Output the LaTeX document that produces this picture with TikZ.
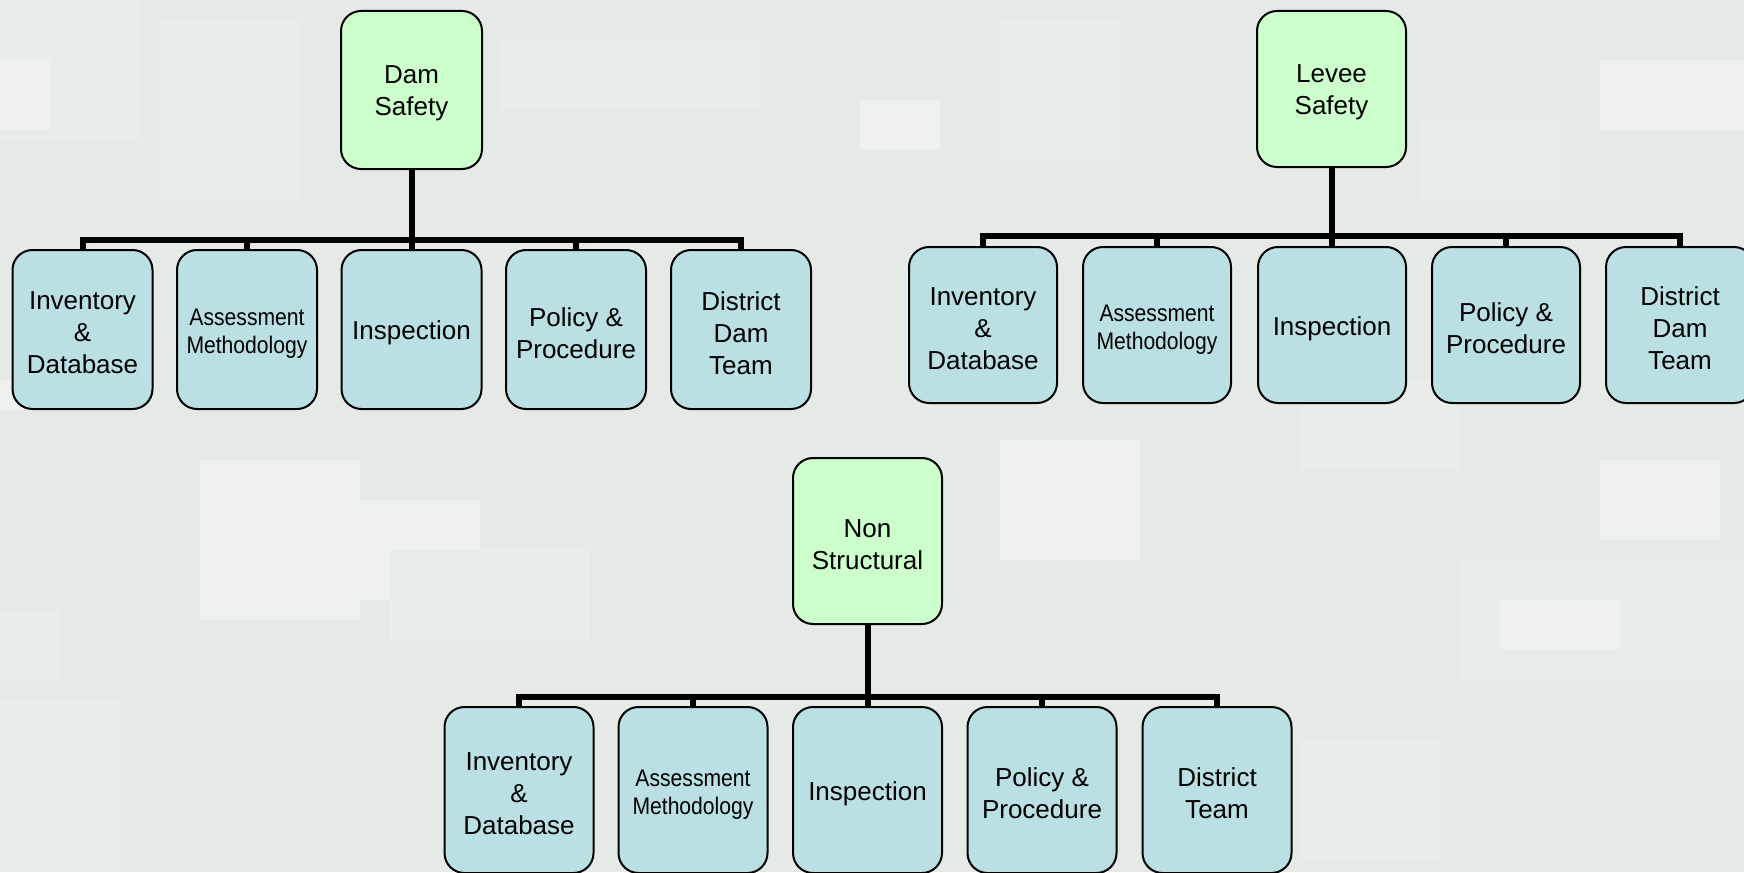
\documentclass[tikz,border=0pt]{standalone}
\usepackage{fontspec}
\setmainfont{Liberation Sans}
\newfontfamily\narrowfont[FakeStretch=0.88]{Liberation Sans}
\definecolor{bgbase}{HTML}{E5EAE7}
\definecolor{bglight}{HTML}{E9EDEA}
\definecolor{bglighter}{HTML}{EEF1EE}
\definecolor{rootfill}{HTML}{CCFFCC}
\definecolor{childfill}{HTML}{BAE0E3}
\tikzset{
  box/.style={draw=black, line width=1pt, rounded corners=10pt, inner sep=0pt},
  rootbox/.style={box, fill=rootfill},
  childbox/.style={box, fill=childfill},
  lbl/.style={align=center, inner sep=0pt, font=\fontsize{13}{16}\selectfont, yshift=-1.7pt},
  narrowlbl/.style={align=center, inner sep=0pt, font=\fontsize{12}{14}\selectfont\narrowfont, yshift=-2.2pt},
  conn/.style={draw=black, line width=3pt, line join=miter},
  sz/.style 2 args={minimum width=#1*0.5pt, minimum height=#2*0.5pt},
}
\begin{document}
\begin{tikzpicture}[x=0.5pt, y=-0.5pt]
\useasboundingbox (0,0) rectangle (1744,872);
% background
\fill[bgbase] (0,0) rectangle (1744,872);
\fill[bglight] (0,0) rectangle (140,140);
\fill[bglighter] (0,60) rectangle (50,130);
\fill[bglight] (160,20) rectangle (300,200);
\fill[bglight] (500,40) rectangle (760,110);
\fill[bglighter] (860,100) rectangle (940,150);
\fill[bglight] (1000,20) rectangle (1120,160);
\fill[bglighter] (1600,60) rectangle (1744,130);
\fill[bglight] (1420,120) rectangle (1560,200);
\fill[bglighter] (0,380) rectangle (50,410);
\fill[bglighter] (200,460) rectangle (360,620);
\fill[bglighter] (300,500) rectangle (480,600);
\fill[bglight] (390,550) rectangle (590,640);
\fill[bglight] (0,610) rectangle (60,680);
\fill[bglighter] (1000,440) rectangle (1140,560);
\fill[bglight] (1300,380) rectangle (1460,470);
\fill[bglighter] (1600,460) rectangle (1720,540);
\fill[bglight] (1460,560) rectangle (1744,680);
\fill[bglighter] (1500,600) rectangle (1620,650);
\fill[bglight] (1300,740) rectangle (1440,860);
\fill[bglight] (0,700) rectangle (120,872);

% ---------- Tree 1: Dam Safety ----------
\node[rootbox, sz={141}{158}] (r1) at (411.5,90) {};
\node[lbl] (r1t) at (r1.center) {Dam\\Safety};
\foreach \i/\x/\t in {1/82.5/{Inventory\\\&\\Database}, 3/411.5/{Inspection}, 4/576/{Policy \&\\Procedure}, 5/741/{District\\Dam\\Team}}{
  \node[childbox, sz={140}{159}] (c1\i) at (\x,329.5) {};
  \node[lbl] (c1\i t) at (c1\i.center) {\t};
}
\node[childbox, sz={140}{159}] (c12) at (247,329.5) {};
\node[narrowlbl] (c12t) at (c12.center) {Assessment\\Methodology};
\coordinate (b1) at (411.5,239.5);
\draw[conn] (r1.south) -- (b1);
\draw[conn] (c11.north) -- (c11.north |- b1) -- (c15.north |- b1) -- (c15.north);
\foreach \i in {2,3,4}{ \draw[conn] (c1\i.north) -- (c1\i.north |- b1); }

% ---------- Tree 2: Levee Safety ----------
\node[rootbox, sz={149}{156}] (r2) at (1331.5,89) {};
\node[lbl] (r2t) at (r2.center) {Levee\\Safety};
\foreach \i/\x/\t in {1/983/{Inventory\\\&\\Database}, 3/1332/{Inspection}, 4/1506/{Policy \&\\Procedure}, 5/1680/{District\\Dam\\Team}}{
  \node[childbox, sz={148}{156}] (c2\i) at (\x,325) {};
  \node[lbl] (c2\i t) at (c2\i.center) {\t};
}
\node[childbox, sz={148}{156}] (c22) at (1157,325) {};
\node[narrowlbl] (c22t) at (c22.center) {Assessment\\Methodology};
\coordinate (b2) at (1331.5,236);
\draw[conn] (r2.south) -- (b2);
\draw[conn] (c21.north) -- (c21.north |- b2) -- (c25.north |- b2) -- (c25.north);
\foreach \i in {2,3,4}{ \draw[conn] (c2\i.north) -- (c2\i.north |- b2); }

% ---------- Tree 3: Non Structural ----------
\node[rootbox, sz={149}{166}] (r3) at (867.5,541) {};
\node[lbl] (r3t) at (r3.center) {Non\\Structural};
\foreach \i/\x/\t in {1/519/{Inventory\\\&\\Database}, 3/867.5/{Inspection}, 4/1042/{Policy \&\\Procedure}, 5/1217/{District\\Team}}{
  \node[childbox, sz={149}{166}] (c3\i) at (\x,790) {};
  \node[lbl] (c3\i t) at (c3\i.center) {\t};
}
\node[childbox, sz={149}{166}] (c32) at (693,790) {};
\node[narrowlbl] (c32t) at (c32.center) {Assessment\\Methodology};
\coordinate (b3) at (867.5,697);
\draw[conn] (r3.south) -- (b3);
\draw[conn] (c31.north) -- (c31.north |- b3) -- (c35.north |- b3) -- (c35.north);
\foreach \i in {2,3,4}{ \draw[conn] (c3\i.north) -- (c3\i.north |- b3); }
\end{tikzpicture}
\end{document}
